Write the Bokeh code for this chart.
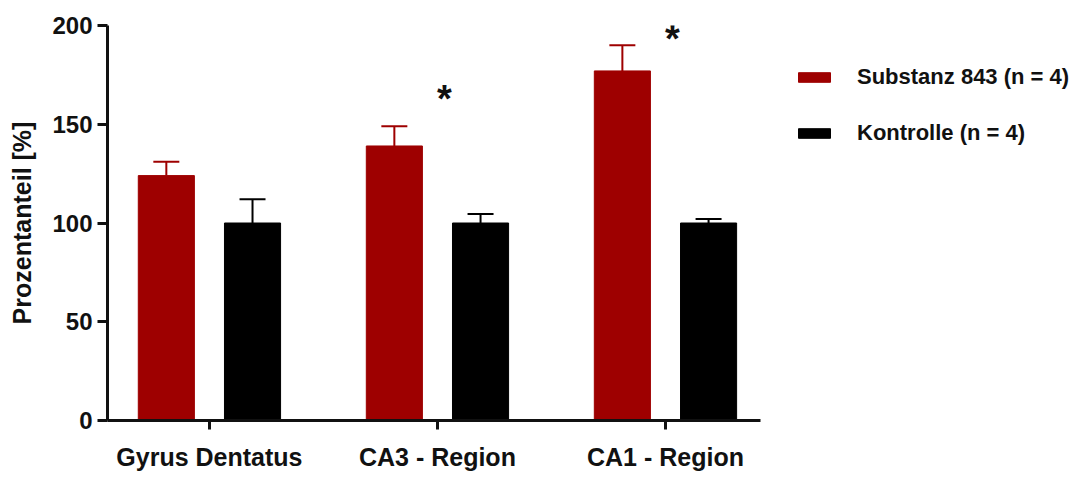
from bokeh.plotting import figure
from bokeh.models import Range1d, FixedTicker, ColumnDataSource, Legend, LegendItem
from bokeh.embed import file_html
from bokeh.resources import INLINE
from bokeh.core.properties import value

# ---- data ----
categories = ["Gyrus Dentatus", "CA3 - Region", "CA1 - Region"]
substanz_mean = [124, 139, 177]
substanz_err = [7, 10, 13]
kontrolle_mean = [100, 100, 100]
kontrolle_err = [12, 4.5, 2]
sig_categories = [1, 2]          # categories marked with *
sig_height = [166, 196]          # height of the asterisk
y_ticks = [0, 50, 100, 150, 200]
series_labels = ["Substanz 843 (n = 4)", "Kontrolle (n = 4)"]
colors = ["#9E0000", "#000000"]

FONT = "Liberation Sans"
bar_w = 0.246
off = 0.189
cap = 0.057
x_lo, x_hi = -0.447, 2.417      # visible extent of the category axis

p = figure(width=1076, height=473,
           x_range=Range1d(x_lo, 3.8026), y_range=Range1d(0, 200),
           output_backend="svg", toolbar_location=None,
           min_border_left=107, min_border_top=25,
           min_border_bottom=50, min_border_right=0)
p.outline_line_color = None
p.grid.visible = False
p.background_fill_color = "white"

renderers = []
for k, (means, errs) in enumerate([(substanz_mean, substanz_err), (kontrolle_mean, kontrolle_err)]):
    xs = [i + (-off if k == 0 else off) for i in range(len(categories))]
    upper = [m + e for m, e in zip(means, errs)]
    src = ColumnDataSource(dict(
        x=xs, top=means, upper=upper,
        xl=[x - cap for x in xs], xr=[x + cap for x in xs]))
    r = p.vbar(x="x", top="top", bottom=0, width=bar_w, source=src,
               fill_color=colors[k], line_color=colors[k], line_width=1)
    p.segment(x0="x", y0="top", x1="x", y1="upper", source=src,
              line_color=colors[k], line_width=2)
    p.segment(x0="xl", y0="upper", x1="xr", y1="upper", source=src,
              line_color=colors[k], line_width=2)
    renderers.append(r)

star_src = ColumnDataSource(dict(x=[c + 0.03 for c in sig_categories], y=sig_height,
                                 t=["*"] * len(sig_categories)))
p.text(x="x", y="y", text="t", source=star_src, text_font=value(FONT),
       text_font_size="38px", text_font_style="bold", text_align="center",
       text_baseline="alphabetic", y_offset=6, text_color="#111111")

# axes
p.yaxis.ticker = FixedTicker(ticks=y_ticks)
p.yaxis.axis_label = "Prozentanteil [%]"
p.xaxis.ticker = FixedTicker(ticks=list(range(len(categories))))
p.xaxis.major_label_overrides = {i: c for i, c in enumerate(categories)}
p.xaxis.bounds = (x_lo, x_hi)
for ax in (p.xaxis[0], p.yaxis[0]):
    ax.axis_line_width = 3
    ax.axis_line_color = "#111111"
    ax.major_tick_line_width = 3
    ax.major_tick_line_color = "#111111"
    ax.major_tick_in = 0
    ax.minor_tick_out = 0
    ax.minor_tick_in = 0
    ax.major_label_text_font = FONT
    ax.major_label_text_font_style = "bold"
    ax.major_label_text_color = "#111111"
p.yaxis.major_tick_out = 10
p.yaxis.major_label_text_font_size = "24px"
p.yaxis.major_label_standoff = 5
p.yaxis.axis_label_text_font = FONT
p.yaxis.axis_label_text_font_size = "25px"
p.yaxis.axis_label_text_font_style = "bold"
p.yaxis.axis_label_text_color = "#111111"
p.yaxis.axis_label_standoff = 13
p.xaxis.major_tick_out = 9
p.xaxis.major_label_text_font_size = "25px"
p.xaxis.major_label_standoff = 13

legend = Legend(items=[LegendItem(label=series_labels[k], renderers=[renderers[k]]) for k in range(2)],
                location=(687, 274), glyph_width=40, glyph_height=12, label_standoff=23,
                label_height=25, spacing=30, margin=0, padding=0, border_line_alpha=0,
                background_fill_alpha=0, label_text_font=FONT,
                label_text_font_size="22px", label_text_font_style="bold",
                label_text_color="#111111")
p.add_layout(legend, "center")

open("out.html", "w").write(file_html(p, INLINE))
